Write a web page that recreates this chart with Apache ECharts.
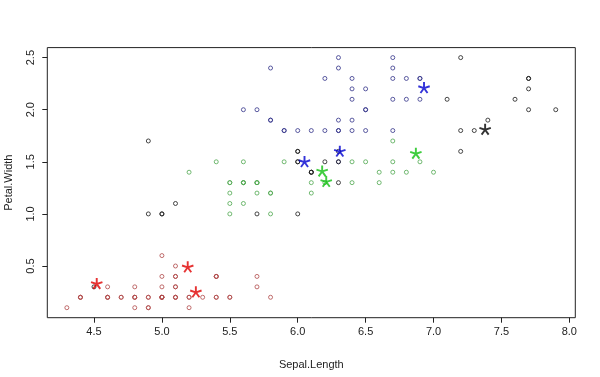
<!DOCTYPE html>
<html><head><meta charset="utf-8">
<script src="https://cdn.jsdelivr.net/npm/echarts@6/dist/echarts.min.js"></script>
<style>html,body{margin:0;padding:0;background:#fff}#c{width:600px;height:377px}</style>
</head><body><div id="c"></div>
<script>
// Sepal.Length vs Petal.Width, points grouped by colour
const redPts = [[5.1,0.2],[4.9,0.2],[4.7,0.2],[4.6,0.2],[5.0,0.2],[5.4,0.4],[4.6,0.3],[5.0,0.2],[4.4,0.2],[4.9,0.1],[5.4,0.2],[4.8,0.2],[4.8,0.1],[4.3,0.1],[5.8,0.2],[5.7,0.4],[5.4,0.4],[5.1,0.3],[5.7,0.3],[5.1,0.3],[5.4,0.2],[5.1,0.4],[4.6,0.2],[5.1,0.5],[4.8,0.2],[5.0,0.2],[5.0,0.4],[5.2,0.2],[5.2,0.2],[4.7,0.2],[4.8,0.2],[5.4,0.4],[5.2,0.1],[5.5,0.2],[4.9,0.2],[5.0,0.2],[5.5,0.2],[4.9,0.1],[4.4,0.2],[5.1,0.2],[5.0,0.3],[4.4,0.2],[5.0,0.6],[5.1,0.4],[4.8,0.3],[5.1,0.2],[4.6,0.2],[5.3,0.2],[5.0,0.2]];
const greenPts = [[7.0,1.4],[6.4,1.5],[6.9,1.5],[5.5,1.3],[6.5,1.5],[5.7,1.3],[6.6,1.3],[5.2,1.4],[5.9,1.5],[5.6,1.3],[6.7,1.4],[5.6,1.5],[5.8,1.0],[5.6,1.1],[6.1,1.3],[6.1,1.2],[6.4,1.3],[6.6,1.4],[6.8,1.4],[6.7,1.7],[5.5,1.1],[5.5,1.0],[5.8,1.2],[5.4,1.5],[6.7,1.5],[5.6,1.3],[5.5,1.3],[5.5,1.2],[5.8,1.2],[5.6,1.3],[5.7,1.2],[5.7,1.3],[6.2,1.3],[5.7,1.3]];
const bluePts = [[6.3,2.5],[5.8,1.9],[6.3,1.8],[6.5,2.2],[6.7,1.8],[6.5,2.0],[6.4,1.9],[6.8,2.1],[5.7,2.0],[5.8,2.4],[6.4,2.3],[6.5,1.8],[6.9,2.3],[5.6,2.0],[6.3,1.8],[6.7,2.1],[6.2,1.8],[6.1,1.8],[6.4,2.1],[6.4,2.2],[6.3,1.5],[6.3,2.4],[6.4,1.8],[6.0,1.8],[6.9,2.1],[6.7,2.4],[6.9,2.3],[5.8,1.9],[6.8,2.3],[6.7,2.5],[6.7,2.3],[6.3,1.9],[6.5,2.0],[6.2,2.3],[5.9,1.8],[5.9,1.8]];
const blackPts = [[4.5,0.3],[6.3,1.6],[4.9,1.0],[5.0,1.0],[6.0,1.0],[6.1,1.4],[6.2,1.5],[6.3,1.5],[6.0,1.5],[5.7,1.0],[6.0,1.6],[6.0,1.6],[6.3,1.3],[6.1,1.4],[5.0,1.0],[5.1,1.1],[7.1,2.1],[7.6,2.1],[4.9,1.7],[7.3,1.8],[7.2,2.5],[7.7,2.2],[7.7,2.3],[6.0,1.5],[7.7,2.0],[7.2,1.8],[7.2,1.6],[7.4,1.9],[7.9,2.0],[6.1,1.4],[7.7,2.3]];
// centres (stars)
const redStars = [[4.52,0.33],[5.19,0.49],[5.25,0.25]];
const greenStars = [[6.18,1.41],[6.21,1.31],[6.87,1.58]];
const blueStars = [[6.05,1.50],[6.31,1.60],[6.93,2.21]];
const blackStars = [[7.38,1.81]];
// ticks
const xTicks = [4.5,5.0,5.5,6.0,6.5,7.0,7.5,8.0];
const yTicks = [0.5,1.0,1.5,2.0,2.5];

function starPath(){
  const L=10, w=1.6, s=-1.2, parts=[];
  [90,18,162,-54,234].forEach(a=>{
    const t=a*Math.PI/180, dx=Math.cos(t), dy=-Math.sin(t), nx=-dy, ny=dx;
    const p=[[s*dx+w*nx,s*dy+w*ny],[L*dx+w*nx,L*dy+w*ny],[L*dx-w*nx,L*dy-w*ny],[s*dx-w*nx,s*dy-w*ny]];
    parts.push('M'+p.map(q=>q[0].toFixed(3)+' '+q[1].toFixed(3)).join(' L')+' Z');
  });
  return 'path://'+parts.join(' ');
}
const STAR = starPath();
const font = '"Liberation Sans", Arial, sans-serif';
function pts(data,col){return {type:'scatter',data,symbol:'circle',symbolSize:4,itemStyle:{color:'rgba(255,255,255,0)',borderColor:col,borderWidth:1},silent:true,z:2};}
function stars(data,col){return {type:'scatter',data,symbol:STAR,symbolSize:12,symbolKeepAspect:true,itemStyle:{color:col},silent:true,z:3};}
const chart = echarts.init(document.getElementById('c'),null,{renderer:'canvas'});
chart.setOption({
  animation:false,
  grid:{left:47.3,right:24.7,top:47.6,bottom:59.3,show:true,borderColor:'#222',borderWidth:1,backgroundColor:'transparent',outerBoundsMode:'none',containLabel:false},
  xAxis:{type:'value',min:4.156,max:8.044,
    axisLine:{show:false},splitLine:{show:false},
    axisTick:{show:true,length:5,customValues:xTicks,lineStyle:{color:'#222'}},
    axisLabel:{customValues:xTicks,formatter:v=>v.toFixed(1),margin:9,fontSize:11,color:'#222',fontFamily:font},
    name:'Sepal.Length',nameLocation:'middle',nameGap:42,nameTextStyle:{fontSize:11,color:'#222',fontFamily:font}},
  yAxis:{type:'value',min:0.004,max:2.596,
    axisLine:{show:false},splitLine:{show:false},
    axisTick:{show:true,length:5,customValues:yTicks,lineStyle:{color:'#222'}},
    axisLabel:{customValues:yTicks,formatter:v=>v.toFixed(1),margin:11,rotate:90,fontSize:11,color:'#222',fontFamily:font},
    name:'Petal.Width',nameLocation:'middle',nameGap:33,nameRotate:90,nameTextStyle:{fontSize:11,color:'#222',fontFamily:font}},
  series:[pts(redPts,'#b04a4a'),pts(greenPts,'#4fa84f'),pts(bluePts,'#33338a'),pts(blackPts,'#1a1a1a'),
    stars(redStars,'#e00000'),stars(greenStars,'#10c010'),stars(blueStars,'#0000d0'),stars(blackStars,'#000000')]
});
</script></body></html>
